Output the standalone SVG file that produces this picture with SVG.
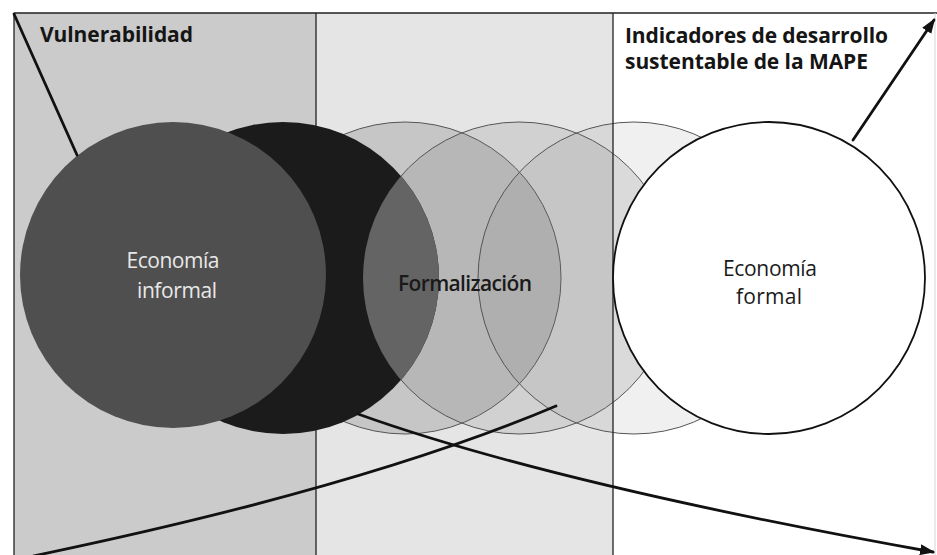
<svg xmlns="http://www.w3.org/2000/svg" width="937" height="555" viewBox="0 0 937 555">
<style>
.frame{stroke:#222;stroke-width:1.3;fill:none}
.title{font-family:"Open Sans","Liberation Sans",sans-serif;font-weight:700;font-size:21px;fill:#151515}
.lbl{font-family:"Open Sans","Liberation Sans",sans-serif;font-size:21px;text-anchor:middle}
.ring{stroke:#555555;stroke-width:1}
.conn{fill:none;stroke:#111;stroke-width:2.8;stroke-linecap:round}
</style>
<defs>
<marker id="ah" viewBox="0 0 15 11" markerWidth="15" markerHeight="11" refX="13" refY="5.5" orient="auto" markerUnits="userSpaceOnUse"><path d="M0,0 L15,5.5 L0,11 z" fill="#111"/></marker>
<clipPath id="clipBlack"><circle cx="283" cy="278" r="156"/></clipPath>
</defs>
<rect width="937" height="555" fill="#ffffff"/>
<g id="columns">
<rect x="14" y="13" width="302" height="542" fill="#cbcbcb"/>
<rect x="316" y="13" width="297" height="542" fill="#e5e5e5"/>
</g>
<g id="formalizacion-circles">
<circle class="ring" cx="405" cy="278" r="156" fill="#707070" fill-opacity="0.26"/>
<circle class="ring" cx="519" cy="278" r="156" fill="#707070" fill-opacity="0.17"/>
<circle class="ring" cx="634" cy="278" r="156" fill="#707070" fill-opacity="0.1"/>
</g>
<g id="frame">
<path class="frame" d="M14,13 H937 M14,13 V555 M316,13 V555 M613,13 V555"/>
<path d="M935,13 V555" stroke="#d5d5d5" stroke-width="1" fill="none"/>
</g>
<g id="vulnerabilidad-circle">
<circle cx="283" cy="278" r="156" fill="#1b1b1b"/>
<circle cx="519" cy="278" r="156" fill="#646464" clip-path="url(#clipBlack)"/>
</g>
<g id="economia-informal">
<circle cx="173" cy="275" r="153" fill="#4f4f4f"/>
<text class="lbl" x="173" y="268" fill="#e8e8e8" textLength="93">Economía</text>
<text class="lbl" x="177" y="298" fill="#e8e8e8" textLength="80">informal</text>
</g>
<g id="economia-formal">
<circle cx="769" cy="278" r="156" fill="#ffffff" stroke="#111" stroke-width="1.8"/>
<text class="lbl" x="770" y="276" fill="#1a1a1a" textLength="94">Economía</text>
<text class="lbl" x="769" y="304" fill="#1a1a1a" textLength="66">formal</text>
</g>
<g id="formalizacion-label">
<text class="lbl" x="465" y="291" fill="#1a1a1a" font-weight="600" textLength="134">Formalización</text>
</g>
<g id="vulnerabilidad-label">
<text class="title" x="40" y="42" textLength="153">Vulnerabilidad</text>
</g>
<g id="indicadores-label">
<text class="title" x="625" y="43" textLength="263">Indicadores de desarrollo</text>
<text class="title" x="625" y="69" textLength="243">sustentable de la MAPE</text>
</g>
<g id="connectors">
<path class="conn" stroke-width="2.2" d="M14,14 L77,155"/>
<path class="conn" d="M853,140 L934,20" marker-end="url(#ah)"/>
<path class="conn" d="M33,556 Q365,487 556,406"/>
<path class="conn" d="M358,414 Q553,484 933,552" marker-end="url(#ah)"/>
</g>
</svg>
